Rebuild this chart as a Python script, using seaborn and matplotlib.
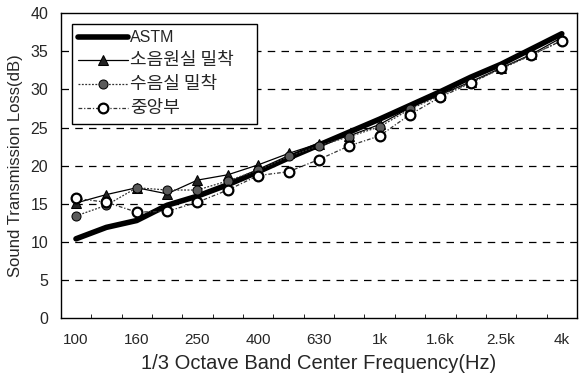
import numpy as np
import pandas as pd
import matplotlib
matplotlib.use("Agg")
import matplotlib.pyplot as plt
import seaborn as sns
from matplotlib.ticker import FixedLocator, NullFormatter

freq_labels = ['100', '125', '160', '200', '250', '315', '400', '500', '630', '800',
               '1k', '1.25k', '1.6k', '2k', '2.5k', '3.15k', '4k']
shown_labels = ['100', '160', '250', '400', '630', '1k', '1.6k', '2.5k', '4k']

astm = [10.4, 11.9, 12.8, 14.8, 16.0, 17.5, 19.2, 21.0, 22.7, 24.4,
        26.1, 27.9, 29.7, 31.6, 33.3, 35.3, 37.3]
source_room = [15.1, 16.2, 17.1, 16.3, 18.1, 18.8, 20.1, 21.6, 22.9, 23.9,
               25.4, 27.6, 29.3, 31.0, 32.8, 34.6, 36.8]
receiving_room = [13.4, 14.8, 17.1, 16.8, 16.8, 18.0, 19.4, 21.2, 22.6, 23.8,
                  25.1, 27.4, 29.2, 30.9, 32.7, 34.5, 36.4]
center = [15.7, 15.2, 13.9, 14.0, 15.2, 16.8, 18.7, 19.2, 20.8, 22.6,
          23.9, 26.7, 29.0, 30.8, 32.8, 34.5, 36.4]

series_names = ['ASTM', '소음원실 밀착', '수음실 밀착', '중앙부']

sns.set_style("white")
plt.rcParams['font.family'] = ['Liberation Sans', 'Noto Sans CJK KR', 'DejaVu Sans']

fig = plt.figure(figsize=(5.79, 3.76), dpi=100)
ax = fig.add_axes([0.105, 0.154, 0.8915, 0.811])

df = pd.DataFrame({'freq': freq_labels, 'astm': astm, 'src': source_room,
                   'rcv': receiving_room, 'ctr': center})

sns.lineplot(data=df, x='freq', y='astm', ax=ax, sort=False, color='black',
             linewidth=4.0, label=series_names[0], zorder=3)
sns.lineplot(data=df, x='freq', y='src', ax=ax, sort=False, color='black',
             linewidth=0.9, linestyle='-', marker='^', markersize=6.5,
             markerfacecolor='#222222', markeredgecolor='black',
             label=series_names[1], zorder=4)
sns.lineplot(data=df, x='freq', y='rcv', ax=ax, sort=False, color='#333333',
             linewidth=0.9, linestyle=(0, (1.5, 1.2)), marker='o', markersize=6.5,
             markerfacecolor='#5a5a5a', markeredgecolor='black',
             label=series_names[2], zorder=5)
sns.lineplot(data=df, x='freq', y='ctr', ax=ax, sort=False, color='#333333',
             linewidth=0.9, linestyle=(0, (3, 1.5, 1, 1.5)), marker='o', markersize=7,
             markerfacecolor='white', markeredgecolor='black', markeredgewidth=1.6,
             label=series_names[3], zorder=6)

ax.set_xlim(-0.5, len(freq_labels) - 0.5)
ax.set_ylim(0, 40)
ax.set_yticks(np.arange(0, 41, 5))
ax.tick_params(axis='y', labelsize=11.5, length=3, direction='in', pad=9)

pos = [freq_labels.index(l) for l in shown_labels]
ax.set_xticks(pos)
ax.set_xticklabels(shown_labels, fontsize=11)
ax.tick_params(axis='x', which='major', length=0, pad=11)
ax.xaxis.set_minor_locator(FixedLocator(np.arange(0.5, len(freq_labels) - 1, 1)))
ax.xaxis.set_minor_formatter(NullFormatter())
ax.tick_params(axis='x', which='minor', length=3, direction='in', color='black', bottom=True)

for v in range(5, 40, 5):
    ax.axhline(v, color='black', linestyle=(0, (6, 5)), linewidth=0.9, zorder=1)

for s in ax.spines.values():
    s.set_color('black')
    s.set_linewidth(1.0)

ax.set_xlabel('1/3 Octave Band Center Frequency(Hz)', fontsize=14.5, labelpad=5)
ax.set_ylabel('Sound Transmission Loss(dB)', fontsize=12, labelpad=5)

leg_h = (123 - 24) / 305.0
leg = ax.legend(loc='upper left', bbox_to_anchor=(0.021, 0.964 - leg_h, 0.3585, leg_h),
                mode='expand', borderaxespad=0,
                frameon=True, fancybox=False, edgecolor='black', framealpha=1,
                fontsize=12, handlelength=3.0, handletextpad=0.1,
                labelspacing=0.36, borderpad=0.38)
leg.get_frame().set_linewidth(1.0)
texts = leg.get_texts()
texts[0].set_fontsize(11.5)
for t in texts[1:]:
    t.set_fontsize(13)
    t.set_family(['Noto Sans CJK KR', 'Liberation Sans'])

fig.savefig('out.png', dpi=100)
